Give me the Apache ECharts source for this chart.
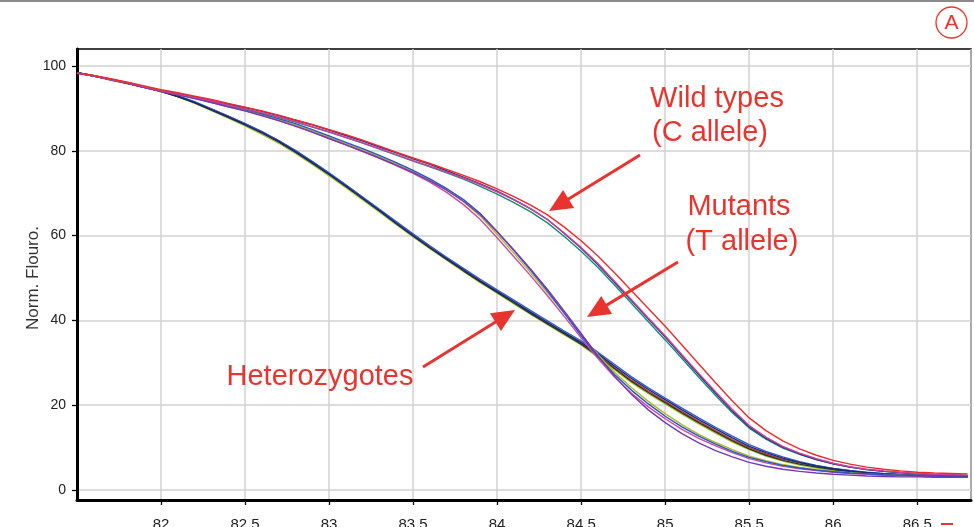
<!DOCTYPE html>
<html>
<head>
<meta charset="utf-8">
<script src="https://cdn.jsdelivr.net/npm/echarts@6/dist/echarts.min.js"></script>
<style>
  html, body { margin: 0; padding: 0; background: #fff; }
  #chart { width: 974px; height: 527px; }
</style>
</head>
<body>
<div id="chart"></div>
<script>
// Melt temperature (°C) at which each normalised fluorescence reading is taken
const temps = [
  81.5, 81.6, 81.7, 81.8, 81.9, 82.0, 82.1, 82.2, 82.3, 82.4,
  82.5, 82.6, 82.7, 82.8, 82.9, 83.0, 83.1, 83.2, 83.3, 83.4,
  83.5, 83.6, 83.7, 83.8, 83.9, 84.0, 84.1, 84.2, 84.3, 84.4,
  84.5, 84.6, 84.7, 84.8, 84.9, 85.0, 85.1, 85.2, 85.3, 85.4,
  85.5, 85.6, 85.7, 85.8, 85.9, 86.0, 86.1, 86.2, 86.3, 86.4,
  86.5, 86.6, 86.7, 86.8
];

// Wild types (C allele) replicates
const wildRed = [
  98.4, 97.8, 97.0, 96.2, 95.3, 94.4, 93.7, 92.9, 92.1, 91.2,
  90.3, 89.4, 88.4, 87.3, 86.2, 85.0, 83.8, 82.5, 81.1, 79.7,
  78.3, 77.0, 75.6, 74.2, 72.7, 71.0, 69.2, 67.2, 64.9, 62.0,
  58.8, 55.2, 51.2, 47.0, 42.8, 38.6, 34.2, 29.7, 25.3, 21.0,
  17.0, 14.0, 11.6, 9.7, 8.2, 7.0, 6.1, 5.4, 4.9, 4.5,
  4.2, 4.0, 3.9, 3.8
];
const wildMagenta = [
  98.3, 97.6, 96.8, 96.0, 95.1, 94.1, 93.4, 92.6, 91.8, 90.8,
  89.9, 89.0, 88.0, 86.9, 85.7, 84.5, 83.2, 81.9, 80.5, 79.1,
  77.7, 76.4, 75.0, 73.6, 72.0, 70.3, 68.4, 66.3, 63.8, 60.6,
  57.2, 53.4, 49.2, 44.9, 40.6, 36.4, 31.9, 27.5, 23.2, 19.0,
  15.2, 12.5, 10.3, 8.7, 7.4, 6.3, 5.5, 4.9, 4.5, 4.2,
  3.9, 3.7, 3.6, 3.5
];
const wildNavy = [
  98.4, 97.7, 96.9, 96.0, 95.1, 94.1, 93.4, 92.7, 91.9, 91.0,
  90.2, 89.3, 88.3, 87.2, 86.1, 84.9, 83.6, 82.3, 80.9, 79.5,
  78.1, 76.8, 75.3, 73.8, 72.2, 70.5, 68.5, 66.3, 63.8, 60.5,
  57.0, 53.1, 48.9, 44.6, 40.3, 36.1, 31.6, 27.2, 22.8, 18.6,
  14.9, 12.2, 10.1, 8.5, 7.2, 6.2, 5.4, 4.8, 4.4, 4.1,
  3.8, 3.6, 3.5, 3.4
];
const wildTeal = [
  98.4, 97.7, 96.9, 96.1, 95.2, 94.2, 93.4, 92.6, 91.7, 90.8,
  89.8, 88.9, 87.9, 86.8, 85.6, 84.4, 83.1, 81.8, 80.4, 79.0,
  77.6, 76.2, 74.8, 73.3, 71.6, 69.8, 67.8, 65.6, 63.0, 59.8,
  56.3, 52.5, 48.3, 44.0, 39.7, 35.4, 31.0, 26.6, 22.3, 18.2,
  14.6, 12.0, 9.9, 8.4, 7.2, 6.2, 5.4, 4.8, 4.4, 4.1,
  3.8, 3.6, 3.5, 3.4
];

// Mutants (T allele) replicates
const mutPurple = [
  98.3, 97.6, 96.8, 95.9, 95.0, 94.0, 93.2, 92.3, 91.4, 90.4,
  89.4, 88.3, 87.1, 85.8, 84.4, 82.9, 81.4, 79.9, 78.3, 76.6,
  74.9, 72.9, 70.7, 68.1, 64.9, 60.9, 56.6, 52.1, 47.3, 42.2,
  36.9, 31.6, 26.8, 22.5, 18.9, 15.9, 13.3, 11.1, 9.3, 7.8,
  6.5, 5.6, 4.9, 4.4, 4.0, 3.7, 3.5, 3.3, 3.2, 3.1,
  3.1, 3.0, 3.0, 3.0
];
const mutMagenta = [
  98.4, 97.6, 96.7, 95.9, 95.0, 94.0, 93.2, 92.4, 91.4, 90.4,
  89.4, 88.3, 87.1, 85.8, 84.4, 82.9, 81.4, 79.8, 78.2, 76.5,
  74.7, 72.6, 70.2, 67.3, 63.8, 59.5, 55.0, 50.5, 45.8, 40.9,
  35.9, 31.0, 26.6, 22.8, 19.6, 16.8, 14.3, 12.2, 10.4, 8.8,
  7.4, 6.4, 5.6, 5.0, 4.6, 4.2, 3.9, 3.7, 3.5, 3.4,
  3.3, 3.2, 3.2, 3.1
];
const mutBlue = [
  98.4, 97.6, 96.8, 96.0, 95.1, 94.1, 93.4, 92.5, 91.6, 90.7,
  89.8, 88.7, 87.6, 86.4, 85.0, 83.5, 82.0, 80.5, 78.9, 77.2,
  75.4, 73.4, 71.1, 68.5, 65.2, 61.0, 56.5, 51.8, 46.9, 41.7,
  36.4, 31.5, 27.2, 23.5, 20.3, 17.4, 14.9, 12.7, 10.8, 9.1,
  7.7, 6.7, 5.8, 5.2, 4.7, 4.3, 4.0, 3.8, 3.6, 3.5,
  3.4, 3.3, 3.2, 3.2
];
const mutYellow = [
  98.4, 97.6, 96.8, 96.0, 95.1, 94.1, 93.3, 92.5, 91.6, 90.6,
  89.6, 88.5, 87.4, 86.1, 84.7, 83.2, 81.7, 80.2, 78.6, 76.9,
  75.1, 73.1, 70.8, 68.0, 64.6, 60.3, 55.8, 51.2, 46.5, 41.6,
  36.6, 31.9, 27.7, 24.1, 20.9, 18.0, 15.4, 13.1, 11.2, 9.5,
  8.0, 6.9, 6.0, 5.3, 4.8, 4.4, 4.1, 3.8, 3.6, 3.5,
  3.4, 3.3, 3.2, 3.2
];

// Heterozygotes replicates
const hetNavy = [
  98.4, 97.6, 96.8, 95.9, 95.0, 94.0, 92.8, 91.4, 89.7, 88.0,
  86.2, 84.3, 82.2, 79.8, 77.2, 74.5, 71.7, 68.8, 65.9, 62.9,
  60.0, 57.2, 54.5, 51.9, 49.3, 46.8, 44.4, 41.9, 39.5, 37.1,
  34.8, 32.1, 29.2, 26.3, 23.7, 21.3, 18.9, 16.6, 14.4, 12.3,
  10.3, 8.8, 7.5, 6.5, 5.7, 5.0, 4.5, 4.1, 3.8, 3.6,
  3.4, 3.3, 3.3, 3.2
];
const hetYellow = [
  98.4, 97.6, 96.7, 95.8, 94.9, 93.9, 92.7, 91.2, 89.5, 87.7,
  85.9, 83.9, 81.8, 79.4, 76.8, 74.1, 71.3, 68.4, 65.5, 62.6,
  59.7, 56.9, 54.2, 51.5, 48.9, 46.4, 43.9, 41.4, 39.0, 36.6,
  34.2, 31.3, 28.3, 25.3, 22.7, 20.3, 17.9, 15.6, 13.4, 11.3,
  9.5, 8.0, 6.8, 5.9, 5.2, 4.6, 4.2, 3.9, 3.6, 3.4,
  3.3, 3.2, 3.1, 3.1
];
const hetRed = [
  98.4, 97.7, 96.8, 95.9, 95.0, 94.0, 92.9, 91.5, 89.9, 88.2,
  86.4, 84.5, 82.4, 80.0, 77.4, 74.7, 71.9, 69.0, 66.1, 63.1,
  60.2, 57.4, 54.7, 52.0, 49.4, 46.9, 44.4, 41.9, 39.5, 37.1,
  34.7, 31.9, 28.9, 25.9, 23.3, 20.9, 18.5, 16.2, 14.0, 11.9,
  10.0, 8.5, 7.3, 6.4, 5.6, 5.0, 4.5, 4.1, 3.8, 3.6,
  3.4, 3.3, 3.2, 3.2
];
const hetBlue = [
  98.4, 97.6, 96.8, 95.9, 95.0, 94.1, 93.0, 91.6, 89.9, 88.2,
  86.4, 84.5, 82.4, 80.1, 77.5, 74.8, 72.0, 69.1, 66.2, 63.3,
  60.4, 57.6, 54.9, 52.3, 49.7, 47.2, 44.8, 42.3, 39.9, 37.5,
  35.2, 32.5, 29.6, 26.7, 24.1, 21.7, 19.3, 17.0, 14.8, 12.7,
  10.7, 9.1, 7.8, 6.7, 5.8, 5.1, 4.6, 4.2, 3.9, 3.7,
  3.5, 3.4, 3.3, 3.3
];
const hetDark = [
  98.4, 97.6, 96.8, 95.9, 95.0, 94.0, 92.8, 91.3, 89.6, 87.9,
  86.1, 84.2, 82.1, 79.7, 77.1, 74.4, 71.6, 68.7, 65.8, 62.8,
  59.9, 57.1, 54.4, 51.7, 49.1, 46.6, 44.1, 41.6, 39.2, 36.8,
  34.4, 31.6, 28.6, 25.6, 23.0, 20.6, 18.2, 15.9, 13.7, 11.6,
  9.7, 8.2, 7.0, 6.1, 5.4, 4.8, 4.3, 4.0, 3.7, 3.5,
  3.4, 3.3, 3.2, 3.2
];

// Axis tick labels
const xTicks = [82, 82.5, 83, 83.5, 84, 84.5, 85, 85.5, 86, 86.5];
const yTicks = [0, 20, 40, 60, 80, 100];

const RED = '#e8342f';
const GRID = '#d2d2d2';
const FONT = '"Liberation Sans", Arial, sans-serif';

const curves = [
  { name: 'Heterozygotes', values: hetYellow, color: '#a9c21f' },
  { name: 'Heterozygotes', values: hetRed, color: '#e0322f' },
  { name: 'Heterozygotes', values: hetBlue, color: '#2d5ed3' },
  { name: 'Heterozygotes', values: hetDark, color: '#1e3a2a' },
  { name: 'Heterozygotes', values: hetNavy, color: '#1b2a7a' },
  { name: 'Mutants', values: mutYellow, color: '#a7bd1f' },
  { name: 'Mutants', values: mutMagenta, color: '#c94aa9' },
  { name: 'Mutants', values: mutBlue, color: '#2c52c4' },
  { name: 'Mutants', values: mutPurple, color: '#7639b5' },
  { name: 'Wild types', values: wildTeal, color: '#1b8a6e' },
  { name: 'Wild types', values: wildNavy, color: '#1f3c96' },
  { name: 'Wild types', values: wildMagenta, color: '#d23c9c' },
  { name: 'Wild types', values: wildRed, color: '#ee2a2a' }
];

const series = curves.map(c => ({
  type: 'line',
  name: c.name,
  xAxisIndex: 1,
  yAxisIndex: 1,
  showSymbol: false,
  silent: true,
  animation: false,
  lineStyle: { color: c.color, width: 1.4 },
  data: temps.slice(0, c.values.length).map((t, i) => [t, c.values[i]])
}));

// Red callout arrow: shaft plus filled triangular head
function arrow(x1, y1, x2, y2) {
  const dx = x2 - x1, dy = y2 - y1;
  const len = Math.sqrt(dx * dx + dy * dy);
  const ux = dx / len, uy = dy / len;
  const headLen = 23, headHalf = 10.5;
  const bx = x2 - ux * headLen, by = y2 - uy * headLen;
  return [
    { type: 'line', z: 100, silent: true,
      shape: { x1: x1, y1: y1, x2: bx + ux * 2, y2: by + uy * 2 },
      style: { stroke: RED, lineWidth: 3 } },
    { type: 'polygon', z: 100, silent: true,
      shape: { points: [[x2, y2], [bx - uy * headHalf, by + ux * headHalf], [bx + uy * headHalf, by - ux * headHalf]] },
      style: { fill: RED } }
  ];
}

function label(text, x, y) {
  return {
    type: 'text', z: 100, silent: true, x: x, y: y,
    style: {
      text: text, fill: RED, font: '29px ' + FONT,
      align: 'center', verticalAlign: 'middle',
      textAlign: 'center', textVerticalAlign: 'middle'
    }
  };
}

const graphics = [
  { type: 'rect', z: 100, silent: true, shape: { x: 0, y: 0, width: 974, height: 2 }, style: { fill: '#8a8a8a' } },
  { type: 'circle', z: 100, silent: true, shape: { cx: 951.5, cy: 22.5, r: 15.5 }, style: { fill: 'none', stroke: RED, lineWidth: 1.3 } },
  { type: 'text', z: 100, silent: true, x: 951.5, y: 23.5,
    style: { text: 'A', fill: RED, font: '21px ' + FONT, align: 'center', verticalAlign: 'middle', textAlign: 'center', textVerticalAlign: 'middle' } },
  { type: 'line', z: 100, silent: true, shape: { x1: 941, y1: 524, x2: 953, y2: 524 }, style: { stroke: RED, lineWidth: 2 } },
  label('Wild types', 717, 99),
  label('(C allele)', 710, 133),
  label('Mutants', 739, 207),
  label('(T allele)', 742, 242),
  label('Heterozygotes', 320, 377)
].concat(
  arrow(640, 155, 549, 211),
  arrow(678, 262, 587, 317),
  arrow(423, 367, 515, 310)
);

const chart = echarts.init(document.getElementById('chart'), null, { renderer: 'canvas' });

chart.setOption({
  animation: false,
  backgroundColor: '#ffffff',
  grid: [
    // frame: full plot box with temperature axis
    { left: 77, right: 3, top: 49, bottom: 27, show: true, borderColor: '#000', borderWidth: 1.6,
      backgroundColor: 'transparent', containLabel: false, outerBoundsMode: 'none' },
    // data area: 0..100 normalised fluorescence
    { left: 77, right: 3, top: 66, bottom: 37, containLabel: false, outerBoundsMode: 'none' }
  ],
  xAxis: [
    {
      gridIndex: 0, type: 'value', min: 81.5, max: 86.82, interval: 0.5,
      axisLine: { show: true, onZero: false, lineStyle: { color: '#000', width: 3 } },
      axisTick: { show: true, length: 5, lineStyle: { color: '#000', width: 1.3 } },
      splitLine: { show: true, lineStyle: { color: GRID, width: 1.5 } },
      axisLabel: {
        show: true, margin: 17, color: '#222', fontSize: 15, fontFamily: FONT,
        showMinLabel: false, showMaxLabel: false,
        formatter: v => xTicks.some(t => Math.abs(t - v) < 1e-6) ? String(v) : ''
      }
    },
    { gridIndex: 1, type: 'value', min: 81.5, max: 86.82, show: false }
  ],
  yAxis: [
    {
      gridIndex: 0, type: 'value', min: 0, max: 1,
      axisLine: { show: true, onZero: false, lineStyle: { color: '#000', width: 3 } },
      axisTick: { show: false }, axisLabel: { show: false }, splitLine: { show: false }
    },
    {
      gridIndex: 1, type: 'value', min: 0, max: 100, interval: 20,
      name: 'Norm. Flouro.', nameLocation: 'middle', nameGap: 35, nameRotate: 90,
      nameMoveOverlap: false,
      nameTextStyle: { color: '#333', fontSize: 17, fontFamily: FONT },
      axisLine: { show: false },
      axisTick: { show: true, length: 5, lineStyle: { color: '#000', width: 1.3 } },
      splitLine: { show: true, lineStyle: { color: GRID, width: 1.5 } },
      axisLabel: {
        show: true, margin: 11, color: '#222', fontSize: 14, fontFamily: FONT,
        formatter: v => yTicks.indexOf(v) >= 0 ? String(v) : ''
      }
    }
  ],
  graphic: { elements: graphics },
  series: series
});
</script>
</body>
</html>
